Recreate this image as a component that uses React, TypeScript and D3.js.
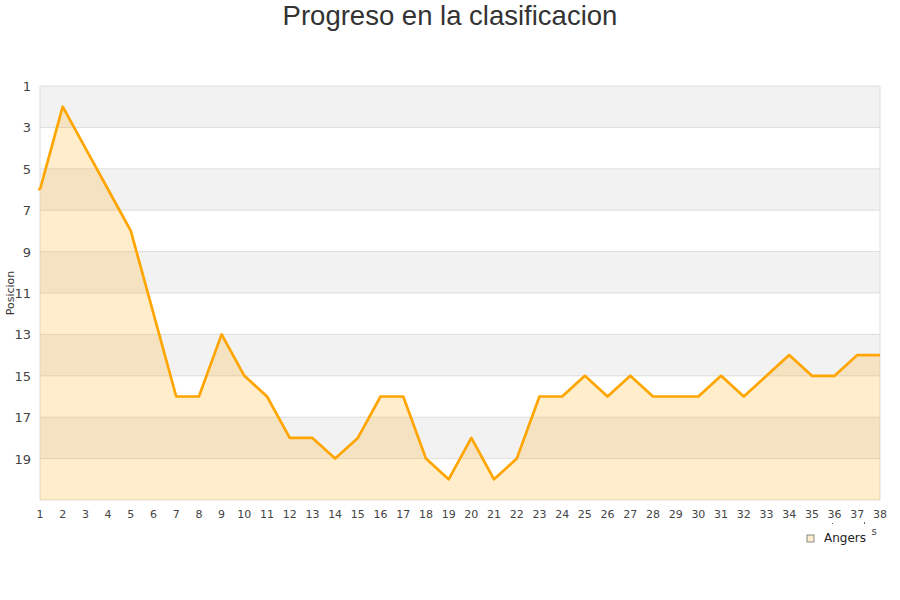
import React from "react";
import * as d3 from "d3";

const jornadas = d3.range(1, 39);
const posiciones = [6, 2, 4, 6, 8, 12, 16, 16, 13, 15, 16, 18, 18, 19, 18, 16, 16, 19, 20, 18, 20, 19, 16, 16, 15, 16, 15, 16, 16, 16, 15, 16, 15, 14, 15, 15, 14, 14];
const yTicks = [1, 3, 5, 7, 9, 11, 13, 15, 17, 19];
const bands = [1, 5, 9, 13, 17];
const title = "Progreso en la clasificacion";
const yLabel = "Posicion";
const seriesName = "Angers";

export default function App() {
  const W = 900, H = 600;
  const left = 40, right = 880, top = 86, bottom = 500;
  const x = d3.scaleLinear().domain([1, 38]).range([left, right]);
  const y = d3.scaleLinear().domain([1, 21]).range([top, bottom]);
  const data = jornadas.map((j, i) => ({ j, p: posiciones[i] }));
  const line = d3.line<{ j: number; p: number }>().x(d => x(d.j)).y(d => y(d.p));
  const area = d3.area<{ j: number; p: number }>().x(d => x(d.j)).y0(bottom).y1(d => y(d.p));
  const font = "DejaVu Sans, sans-serif";
  return (
    <svg width={W} height={H} style={{ position: "absolute", left: 0, top: 0, background: "#fff" }}>
      <text x={450} y={25} textAnchor="middle" fontFamily="Liberation Sans, Arial, sans-serif" fontSize={27.5} fill="#333">{title}</text>
      {bands.map(b => (
        <rect key={b} x={left} y={y(b)} width={right - left} height={y(b + 2) - y(b)} fill="#f2f2f2" />
      ))}
      {yTicks.map(t => (
        <line key={t} x1={left} x2={right} y1={y(t)} y2={y(t)} stroke="#dddddd" strokeWidth={1} />
      ))}
      <line x1={left} x2={right} y1={bottom} y2={bottom} stroke="#dddddd" />
      <line x1={left} x2={left} y1={top} y2={bottom} stroke="#dddddd" />
      <line x1={right} x2={right} y1={top} y2={bottom} stroke="#dddddd" />
      <path d={area(data) || ""} fill="rgba(255,165,0,0.2)" />
      <path d={line(data) || ""} fill="none" stroke="#FFA500" strokeWidth={2.7} strokeLinejoin="round" />
      <line x1={38} x2={40} y1={y(posiciones[0])} y2={y(posiciones[0])} stroke="#FFA500" strokeWidth={2} />
      {yTicks.map(t => (
        <text key={t} x={31} y={y(t) + 5} textAnchor="end" fontFamily={font} fontSize={13} fill="#444">{t}</text>
      ))}
      {jornadas.map(j => (
        <text key={j} x={x(j)} y={518} textAnchor="middle" fontFamily={font} fontSize={11} fill="#444">{j}</text>
      ))}
      <text transform={`translate(14,293) rotate(-90)`} textAnchor="middle" fontFamily={font} fontSize={11} fill="#333">{yLabel}</text>
      <rect x={832} y={523} width={1} height={1} fill="#666" />
      <rect x={864} y={522} width={1} height={2} fill="#666" />
      <text x={874} y={535} textAnchor="middle" fontFamily={font} fontSize={10} fill="#444">s</text>
      <rect x={807} y={535} width={7} height={7} fill="rgba(255,165,0,0.2)" stroke="#888" strokeWidth={1} />
      <text x={824} y={542} fontFamily={font} fontSize={12} fill="#222">{seriesName}</text>
    </svg>
  );
}
